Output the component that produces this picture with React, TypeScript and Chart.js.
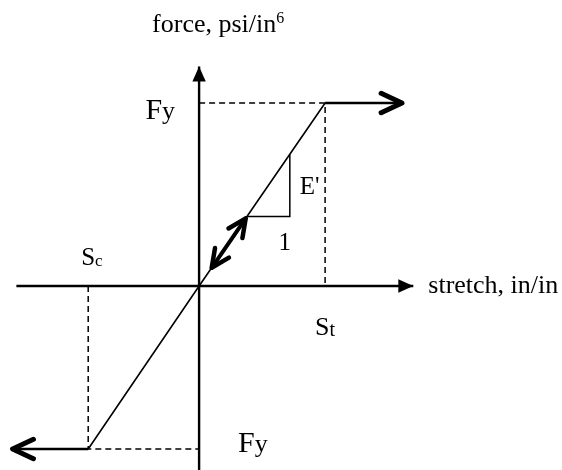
import { useEffect, useRef } from "react";
import { Chart, registerables } from "chart.js";

Chart.register(...registerables);

// Axis extents (stretch in units of S_t, force in units of F_y)
const stretchAxis = [-1.45, 1.7];
const forceAxis = [-1.01, 1.2];

// Elastic branch through the origin, between compressive and tensile yield
const elasticStretch = [-0.88, 0, 1];
const elasticForce = [-0.89, 0, 1];

// Perfectly plastic branches
const tensionPlasticStretch = [1, 1.61];
const tensionPlasticForce = [1, 1];
const compressionPlasticStretch = [-0.88, -1.48];
const compressionPlasticForce = [-0.89, -0.89];

// Dashed guides to the axes
const tensionGuideStretch = [0, 1, 1];
const tensionGuideForce = [1, 1, 0];
const compressionGuideStretch = [-0.88, -0.88, 0];
const compressionGuideForce = [0, -0.89, -0.89];

// Slope triangle (E' per 1)
const slopeStretch = [0.38, 0.72, 0.72];
const slopeForce = [0.38, 0.38, 0.72];

// Load / unload double arrow along the elastic line
const reloadStretch = [0.1, 0.37];
const reloadForce = [0.1, 0.37];

// Visible window
const viewStretch = [-1.58, 2.88];
const viewForce = [-1.005, 1.563];

const SERIF = "'Liberation Serif', 'Times New Roman', serif";

type Pt = { x: number; y: number };
const zip = (xs: number[], ys: number[]): Pt[] => xs.map((x, i) => ({ x, y: ys[i] }));

type Part = { text: string; size: number; dy?: number };

function drawRich(ctx: CanvasRenderingContext2D, parts: Part[], x: number, y: number, align: "left" | "center" | "right") {
  ctx.save();
  ctx.fillStyle = "#000";
  ctx.textBaseline = "alphabetic";
  ctx.textAlign = "left";
  const widths = parts.map((p) => {
    ctx.font = `${p.size}px ${SERIF}`;
    return ctx.measureText(p.text).width;
  });
  const total = widths.reduce((a, b) => a + b, 0);
  let cx = align === "left" ? x : align === "center" ? x - total / 2 : x - total;
  parts.forEach((p, i) => {
    ctx.font = `${p.size}px ${SERIF}`;
    ctx.fillText(p.text, cx, y + (p.dy || 0));
    cx += widths[i];
  });
  ctx.restore();
}

function drawHead(ctx: CanvasRenderingContext2D, tip: Pt, from: Pt, kind: string) {
  const ang = Math.atan2(tip.y - from.y, tip.x - from.x);
  ctx.save();
  ctx.fillStyle = "#000";
  ctx.strokeStyle = "#000";
  if (kind === "triangle") {
    const len = 15;
    const half = 6.7;
    const bx = tip.x - Math.cos(ang) * len;
    const by = tip.y - Math.sin(ang) * len;
    ctx.beginPath();
    ctx.moveTo(tip.x, tip.y);
    ctx.lineTo(bx + Math.sin(ang) * half, by - Math.cos(ang) * half);
    ctx.lineTo(bx - Math.sin(ang) * half, by + Math.cos(ang) * half);
    ctx.closePath();
    ctx.fill();
  } else {
    const big = kind === "chevron";
    const len = big ? 23 : 20;
    const spread = (big ? 25 : 25) * (Math.PI / 180);
    ctx.lineWidth = big ? 5 : 4.5;
    ctx.lineCap = "round";
    ctx.lineJoin = "round";
    ctx.beginPath();
    ctx.moveTo(tip.x - Math.cos(ang - spread) * len, tip.y - Math.sin(ang - spread) * len);
    ctx.lineTo(tip.x, tip.y);
    ctx.lineTo(tip.x - Math.cos(ang + spread) * len, tip.y - Math.sin(ang + spread) * len);
    ctx.stroke();
  }
  ctx.restore();
}

const marksPlugin = {
  id: "diagramMarks",
  afterDatasetsDraw(chart: any) {
    const ctx: CanvasRenderingContext2D = chart.ctx;
    chart.data.datasets.forEach((ds: any, i: number) => {
      if (!ds.heads) return;
      const pts = chart.getDatasetMeta(i).data;
      const n = pts.length;
      if (ds.heads.end) drawHead(ctx, pts[n - 1], pts[n - 2], ds.heads.end);
      if (ds.heads.start) drawHead(ctx, pts[0], pts[1], ds.heads.start);
    });

    const xs = chart.scales.x;
    const ys = chart.scales.y;
    const px = (v: number) => xs.getPixelForValue(v);
    const py = (v: number) => ys.getPixelForValue(v);

    // axis titles
    drawRich(ctx, [{ text: "force, psi/in", size: 26 }, { text: "6", size: 16, dy: -9 }], px(0) - 47, py(forceAxis[1]) - 34, "left");
    drawRich(ctx, [{ text: "stretch, in/in", size: 26 }], px(stretchAxis[1]) + 15, py(0) + 7, "left");

    // yield force labels
    drawRich(ctx, [{ text: "F", size: 30 }, { text: "y", size: 26 }], px(0) - 24, py(elasticForce[2]) + 16, "right");
    drawRich(ctx, [{ text: "F", size: 30 }, { text: "y", size: 26 }], px(0) + 39, py(elasticForce[0]) + 3, "left");

    // yield stretch labels
    drawRich(ctx, [{ text: "S", size: 25 }, { text: "c", size: 17, dy: 1 }], px(elasticStretch[0]) - 7, py(0) - 21, "left");
    drawRich(ctx, [{ text: "S", size: 26 }, { text: "t", size: 20, dy: 1 }], px(elasticStretch[2]) - 10, py(0) + 49, "left");

    // slope triangle labels
    const midF = (slopeForce[1] + slopeForce[2]) / 2;
    drawRich(ctx, [{ text: "E'", size: 25 }], px(slopeStretch[2]) + 10, py(midF) + 9, "left");
    drawRich(ctx, [{ text: "1", size: 25 }], px(slopeStretch[2]) - 5, py(slopeForce[1]) + 33, "center");
  },
};

function line(data: Pt[], width: number, extra: any = {}) {
  return {
    data,
    showLine: true,
    borderColor: "#000",
    backgroundColor: "#000",
    borderWidth: width,
    pointRadius: 0,
    pointHoverRadius: 0,
    tension: 0,
    fill: false,
    ...extra,
  };
}

export default function App() {
  const canvasRef = useRef<HTMLCanvasElement | null>(null);

  useEffect(() => {
    const canvas = canvasRef.current;
    if (!canvas) return;
    const dash = { borderDash: [6, 4], borderCapStyle: "butt" };
    const chart = new Chart(canvas, {
      type: "scatter",
      data: {
        datasets: [
          line(zip(tensionGuideStretch, tensionGuideForce), 1.5, dash),
          line(zip(compressionGuideStretch, compressionGuideForce), 1.5, dash),
          line(zip(stretchAxis, [0, 0]), 2.4, { heads: { end: "triangle" } }),
          line(zip([0, 0], forceAxis), 2.4, { heads: { end: "triangle" } }),
          line(zip(elasticStretch, elasticForce), 1.6),
          line(zip(tensionPlasticStretch, tensionPlasticForce), 2.5, { heads: { end: "chevron" } }),
          line(zip(compressionPlasticStretch, compressionPlasticForce), 2.5, { heads: { end: "chevron" } }),
          line(zip(slopeStretch, slopeForce), 1.5),
          line(zip(reloadStretch, reloadForce), 4, { borderCapStyle: "round", heads: { start: "small", end: "small" } }),
        ] as any,
      },
      options: {
        animation: false,
        responsive: false,
        devicePixelRatio: 1,
        layout: { padding: 0 },
        plugins: { legend: { display: false }, tooltip: { enabled: false } },
        events: [],
        scales: {
          x: { type: "linear", min: viewStretch[0], max: viewStretch[1], display: false },
          y: { type: "linear", min: viewForce[0], max: viewForce[1], display: false },
        },
      } as any,
      plugins: [marksPlugin],
    });
    return () => chart.destroy();
  }, []);

  return (
    <div style={{ position: "fixed", left: 0, top: 0, width: 562, height: 470, background: "#fff" }}>
      <canvas ref={canvasRef} width={562} height={470} style={{ display: "block", width: 562, height: 470 }} />
    </div>
  );
}
